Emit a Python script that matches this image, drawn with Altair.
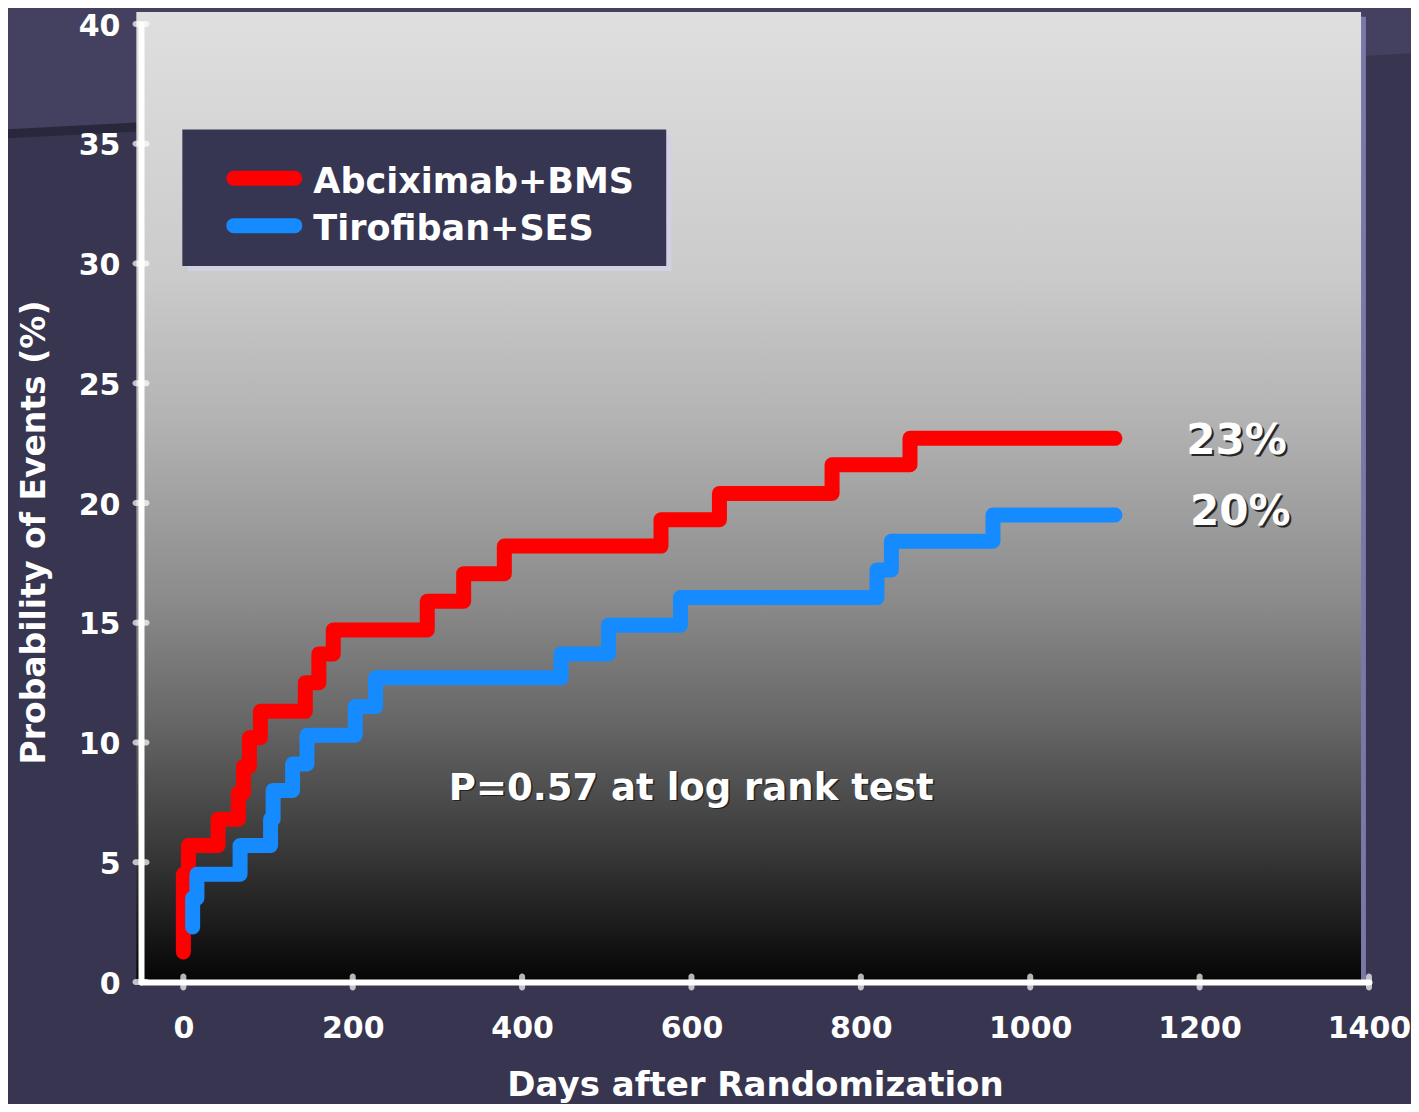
import altair as alt
import pandas as pd

# ---------------- data ----------------
series_names = ["Abciximab+BMS", "Tirofiban+SES"]
series_colors = ["#ff0000", "#168aff"]

red_days = [0, 0, 6, 41, 65, 71, 78, 91, 144, 160, 177, 288, 331, 379, 564, 633, 766, 858, 1100]
red_prob = [1.25, 4.5, 5.7, 6.8, 7.9, 9.0, 10.2, 11.3, 12.5, 13.7, 14.7, 15.9, 17.05, 18.2, 19.3, 20.4, 21.6, 22.7, 22.7]

blue_days = [11, 11, 16, 67, 103, 106, 129, 146, 203, 227, 446, 502, 587, 819, 836, 956, 1100]
blue_prob = [2.3, 3.5, 4.5, 5.7, 6.8, 8.0, 9.1, 10.3, 11.5, 12.7, 13.7, 14.9, 16.05, 17.2, 18.4, 19.5, 19.5]

x_ticks = [0, 200, 400, 600, 800, 1000, 1200, 1400]
y_ticks = [0, 5, 10, 15, 20, 25, 30, 35, 40]

end_labels = ["23%", "20%"]
p_text = "P=0.57 at log rank test"

# ---------------- build tables ----------------
lines = pd.concat([
    pd.DataFrame({"day": red_days, "prob": red_prob, "series": series_names[0], "order": range(len(red_days))}),
    pd.DataFrame({"day": blue_days, "prob": blue_prob, "series": series_names[1], "order": range(len(blue_days))}),
])

FONT = "DejaVu Sans"
XD = [-50, 1400]
YD = [0, 40]
xs = alt.Scale(domain=XD, nice=False, zero=False)
ys = alt.Scale(domain=YD, nice=False, zero=False)

x_axis = alt.Axis(values=x_ticks, format="d", title="Days after Randomization", ticks=False,
                  labelPadding=31, labelFlush=False, titleY=113, titleBaseline="alphabetic",
                  titleFontSize=34, zindex=1)
y_axis = alt.Axis(values=y_ticks, format="d", title="Probability of Events (%)", ticks=False,
                  labelPadding=21, labelFlush=False, labelOffset=2,
                  titleAngle=270, titleX=-97, titleY=508,
                  titleBaseline="alphabetic", titleAlign="center",
                  titleFontSize=33, zindex=1)


def X(field="day"):
    return alt.X(f"{field}:Q", scale=xs, axis=x_axis)


def Y(field="prob"):
    return alt.Y(f"{field}:Q", scale=ys, axis=y_axis)


# slide decoration: lighter band at the top
band = pd.DataFrame({"day": [-216, 1460], "prob": [35.45, 38.8], "prob2": [41.4, 41.4]})
band_layer = alt.Chart(band).mark_area(color="#43415f", clip=False).encode(
    x=X(), y=Y(), y2="prob2:Q")
band_edge = alt.Chart(pd.DataFrame({"day": [-216, -55], "prob": [35.4, 35.7]})).mark_line(
    color="#28273b", strokeWidth=9, clip=False).encode(x=X(), y=Y())

# plot panel with shadow and grey-to-black gradient
panel_shadow = alt.Chart(pd.DataFrame({"day": [-50], "day2": [1396.4], "prob": [40.3], "prob2": [0]})).mark_rect(
    color="#7a78a8", clip=False).encode(x=X(), x2="day2:Q", y=Y(), y2="prob2:Q")

grad = alt.Gradient(
    gradient="linear", x1=0, x2=0, y1=0, y2=1,
    stops=[
        alt.GradientStop(offset=0.0, color="#dfdfdf"),
        alt.GradientStop(offset=0.27, color="#cbcbcb"),
        alt.GradientStop(offset=0.42, color="#b3b3b3"),
        alt.GradientStop(offset=0.61, color="#8a8a8a"),
        alt.GradientStop(offset=0.73, color="#676767"),
        alt.GradientStop(offset=0.86, color="#3a3a3a"),
        alt.GradientStop(offset=1.0, color="#050505"),
    ],
)
panel = alt.Chart(pd.DataFrame({"day": [-55.5], "day2": [1390.6], "prob": [40.5], "prob2": [0]})).mark_rect(
    fill=grad, clip=False).encode(x=X(), x2="day2:Q", y=Y(), y2="prob2:Q")

# KM step lines
km = alt.Chart(lines).mark_line(
    interpolate="step-after", strokeWidth=15, strokeCap="round", strokeJoin="round", clip=False
).encode(
    x=X(), y=Y(),
    color=alt.Color("series:N", scale=alt.Scale(domain=series_names, range=series_colors), legend=None),
    detail="series:N",
    order="order:Q",
)

# axis ticks crossing the axis lines
xt = alt.Chart(pd.DataFrame({"day": x_ticks, "prob": [0] * len(x_ticks)})).mark_tick(
    orient="vertical", size=17, thickness=6, color="white", cornerRadius=3, clip=False
).encode(x=X(), y=Y())
yt = alt.Chart(pd.DataFrame({"prob": y_ticks, "day": [-50] * len(y_ticks)})).mark_tick(
    orient="horizontal", size=17, thickness=6, color="white", cornerRadius=3, clip=False
).encode(x=X(), y=Y())

# legend box
leg_shadow = alt.Chart(pd.DataFrame({"day": [4.7], "day2": [576.1], "prob": [35.38], "prob2": [29.69]})).mark_rect(
    color="#d2d1e4").encode(x=X(), x2="day2:Q", y=Y(), y2="prob2:Q")
leg_box = alt.Chart(pd.DataFrame({"day": [-1.2], "day2": [570.2], "prob": [35.59], "prob2": [29.9]})).mark_rect(
    color="#363552").encode(x=X(), x2="day2:Q", y=Y(), y2="prob2:Q")

leg = pd.DataFrame({
    "series": series_names,
    "day": [59.6, 59.6], "day2": [131.6, 131.6],
    "prob": [33.56, 31.58],
    "tday": [153.5, 153.5], "tprob": [32.93, 30.99],
})
leg_swatch = alt.Chart(leg).mark_rule(strokeWidth=15, strokeCap="round").encode(
    x=X(), x2="day2:Q", y=Y(),
    color=alt.Color("series:N", scale=alt.Scale(domain=series_names, range=series_colors), legend=None),
)
leg_text = alt.Chart(leg).mark_text(
    align="left", baseline="alphabetic", font=FONT, fontWeight="bold", fontSize=35, color="white"
).encode(x=alt.X("tday:Q", scale=xs, axis=x_axis), y=alt.Y("tprob:Q", scale=ys, axis=y_axis), text="series:N")

# end-of-curve percentages with drop shadow
ends = pd.DataFrame({"label": end_labels, "day": [1243.6, 1248], "prob": [22.04, 19.09]})
ends_shadow = alt.Chart(ends).mark_text(
    align="center", baseline="alphabetic", font=FONT, fontWeight="bold", fontSize=42,
    color="#262626", dx=2, dy=2, clip=False
).encode(x=X(), y=Y(), text="label:N")
ends_text = alt.Chart(ends).mark_text(
    align="center", baseline="alphabetic", font=FONT, fontWeight="bold", fontSize=42, color="white", clip=False
).encode(x=X(), y=Y(), text="label:N")

ptab = pd.DataFrame({"label": [p_text], "day": [599.7], "prob": [7.6]})
p_shadow = alt.Chart(ptab).mark_text(
    align="center", baseline="alphabetic", font=FONT, fontWeight="bold", fontSize=37,
    color="#222222", dx=1.5, dy=1.5
).encode(x=X(), y=Y(), text="label:N")
p_label = alt.Chart(ptab).mark_text(
    align="center", baseline="alphabetic", font=FONT, fontWeight="bold", fontSize=37, color="white"
).encode(x=X(), y=Y(), text="label:N")

chart = alt.layer(
    band_layer, band_edge, panel_shadow, panel, km, leg_shadow, leg_box, leg_swatch, leg_text,
    ends_shadow, ends_text, p_shadow, p_label, xt, yt
).properties(
    width=1228, height=958,
    padding={"left": 133, "top": 16, "right": 42, "bottom": 122},
    autosize=alt.AutoSizeParams(type="none"),
    background="#37354f",
).configure_view(
    stroke=None
).configure_axis(
    grid=False,
    domainColor="white", domainWidth=6, domainCap="round",
    labelColor="white", labelFont=FONT, labelFontWeight="bold", labelFontSize=30,
    titleColor="white", titleFont=FONT, titleFontWeight="bold",
)

chart.save("out.html", embed_options={"renderer": "svg", "actions": False})
